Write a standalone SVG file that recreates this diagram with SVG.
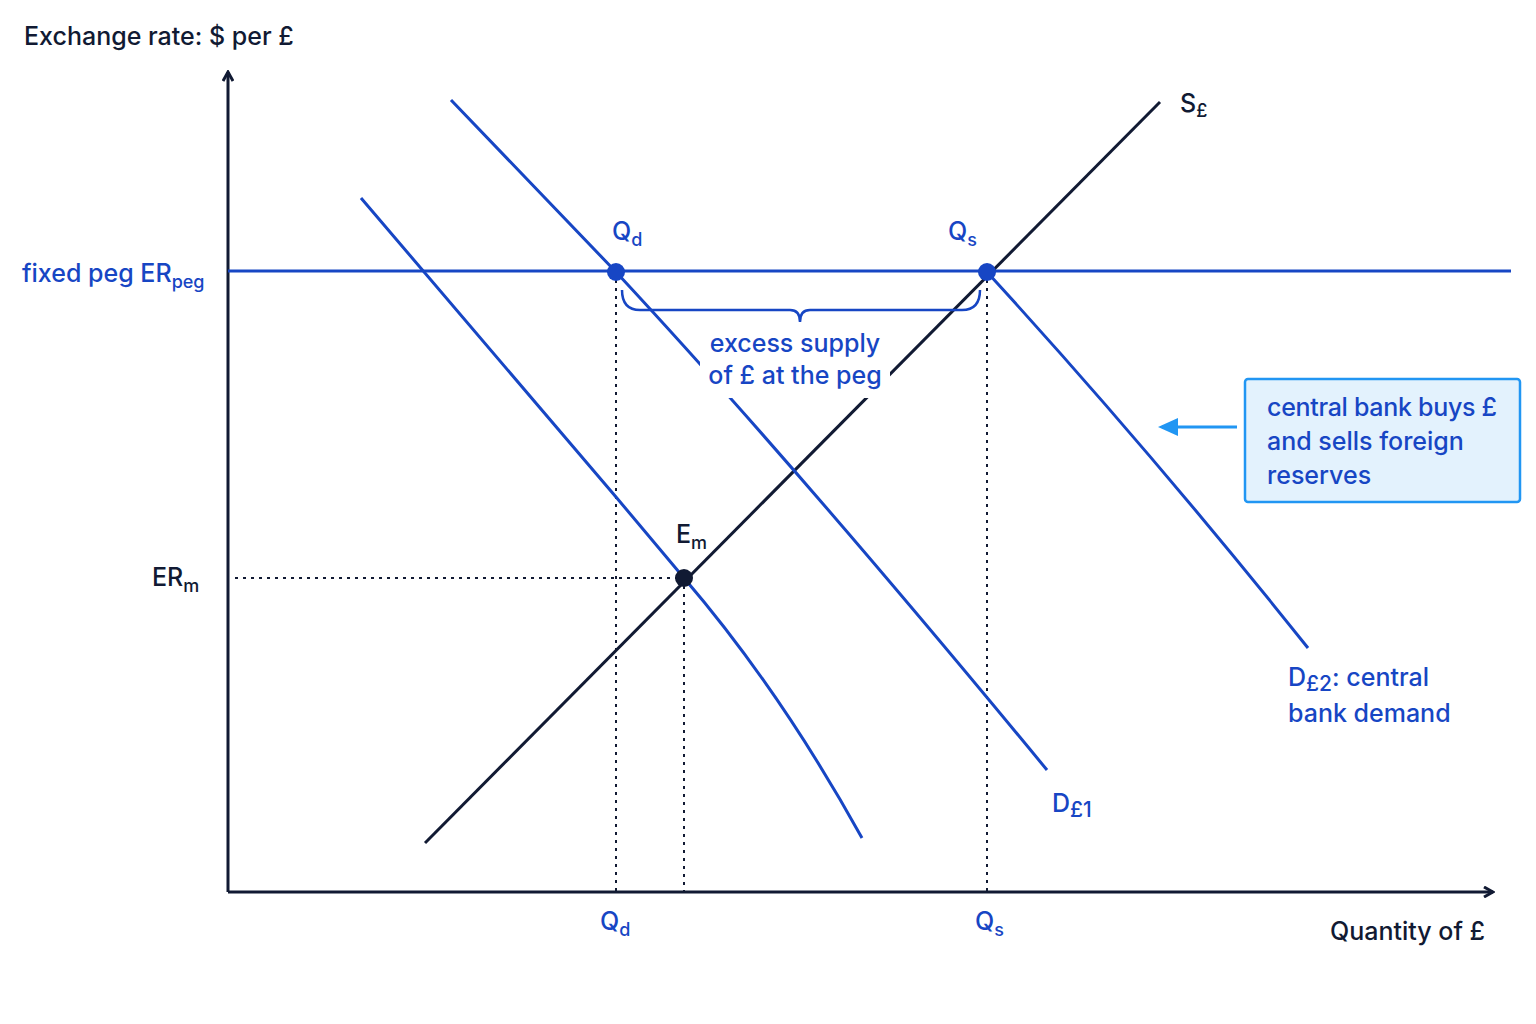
<svg xmlns="http://www.w3.org/2000/svg" width="1536" height="1024" viewBox="0 0 1536 1024">
<style>
text{font-family:Inter,"Liberation Sans",sans-serif;font-size:25px;font-weight:500}
.k{fill:#111a33}.b{fill:#1746c4}
.sub{font-size:18px}
.dot{stroke:#111a33;stroke-width:2;stroke-dasharray:3 5;fill:none}
.bl{stroke:#1746c4;stroke-width:3;fill:none}
</style>
<defs>
<marker id="ah" markerWidth="12" markerHeight="12" refX="10" refY="6" orient="auto" markerUnits="userSpaceOnUse"><path d="M1,1 L10,6 L1,11" fill="none" stroke="#111a33" stroke-width="3"/></marker>
<marker id="ab" markerWidth="20" markerHeight="20" refX="16" refY="9" orient="auto" markerUnits="userSpaceOnUse"><path d="M0,0 L20,9 L0,18 Z" fill="#2196f3"/></marker>
</defs>
<rect width="1536" height="1024" fill="#fff"/>
<g id="connectors">
<path d="M228,892 V72" stroke="#111a33" stroke-width="3" marker-end="url(#ah)"/>
<path d="M228,892 H1493" stroke="#111a33" stroke-width="3" marker-end="url(#ah)"/>
<path class="dot" d="M616,272V892M987,272V892M684,578V892M235,578H684"/>
<path class="bl" d="M228,271H1511"/>
<path d="M425,843 L1160,102" stroke="#111a33" stroke-width="3"/>
<path class="bl" d="M451,100 L616,272 Q800,470 1047,770"/>
<path class="bl" d="M361,198 L616,497 L684,578 Q780,690 862,838"/>
<path class="bl" d="M987,272 Q1150,450 1308,648"/>
<path d="M622,290 Q622,310 640,310 H790 Q800,310 800,322 Q800,310 810,310 H962 Q980,310 980,290" fill="none" stroke="#1746c4" stroke-width="2.5"/>
<rect x="700" y="326" width="190" height="72" fill="#fff"/>
<path d="M1237,427 H1162" stroke="#2196f3" stroke-width="3" marker-end="url(#ab)"/>
</g>
<g id="points">
<circle cx="616" cy="272" r="9" fill="#1746c4"/>
<circle cx="987" cy="272" r="9" fill="#1746c4"/>
<circle cx="684" cy="578" r="9" fill="#111a33"/>
</g>
<g id="box">
<rect x="1245" y="379" width="275" height="123" rx="3" fill="#e3f2fd" stroke="#2196f3" stroke-width="2.5"/>
<text class="b" x="1267" y="416" font-size="24" textLength="230">central bank buys £</text>
<text class="b" x="1267" y="450" font-size="24">and sells foreign</text>
<text class="b" x="1267" y="484" font-size="24">reserves</text>
</g>
<g id="labels">
<text class="k" x="24" y="45">Exchange rate: $ per £</text>
<text class="b" x="22" y="282">fixed peg ER<tspan class="sub" dy="6">peg</tspan></text>
<text class="k" x="1180" y="112">S<tspan class="sub" dy="5">£</tspan></text>
<text class="b" x="612" y="240">Q<tspan class="sub" dy="6">d</tspan></text>
<text class="b" x="948" y="240">Q<tspan class="sub" dy="6">s</tspan></text>
<text class="k" x="676" y="543">E<tspan class="sub" dy="6">m</tspan></text>
<text class="k" x="152" y="586">ER<tspan class="sub" dy="6">m</tspan></text>
<text class="b" x="795" y="352" text-anchor="middle" font-size="23">excess supply</text>
<text class="b" x="795" y="384" text-anchor="middle" font-size="23">of £ at the peg</text>
<text class="b" x="1052" y="812">D<tspan font-size="21" dy="5">£1</tspan></text>
<text class="b" x="1288" y="686">D<tspan font-size="21" dy="5">£2</tspan><tspan dy="-5">: central</tspan></text>
<text class="b" x="1288" y="722">bank demand</text>
<text class="b" x="600" y="930">Q<tspan class="sub" dy="6">d</tspan></text>
<text class="b" x="975" y="930">Q<tspan class="sub" dy="6">s</tspan></text>
<text class="k" x="1330" y="940">Quantity of £</text>
</g>
</svg>
